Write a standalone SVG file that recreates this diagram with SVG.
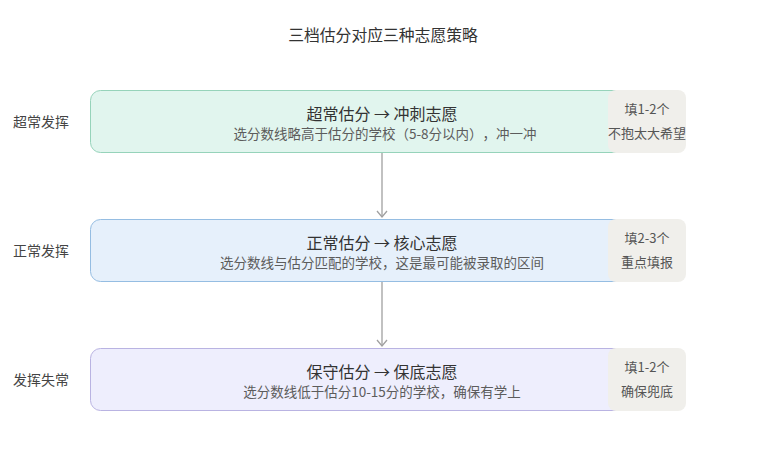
<svg xmlns="http://www.w3.org/2000/svg" width="765" height="450" viewBox="0 0 765 450">
<defs>
<style>
text{font-family:"Noto Sans CJK SC","Liberation Sans",sans-serif;text-spacing-trim:space-all;}
.title{font-size:15.8px;fill:#333;text-anchor:middle;}
.side{font-size:14px;fill:#444;}
.h{font-size:16px;fill:#333;text-anchor:middle;}
.sub{font-size:13.5px;fill:#5c5c5c;text-anchor:middle;}
.tag{fill:#f0efeb;}
.tt{font-size:13px;fill:#555;text-anchor:middle;}
.conn{stroke:#a0a0a0;stroke-width:1.3;fill:none;}
</style>
<marker id="arr" markerWidth="12" markerHeight="14" refX="7" refY="6" orient="auto" markerUnits="userSpaceOnUse">
<path d="M1,1 L7,6 L1,11" fill="none" stroke="#a0a0a0" stroke-width="1.3"/>
</marker>
</defs>
<rect width="765" height="450" fill="#fff"/>
<text class="title" x="383" y="41">三档估分对应三种志愿策略</text>

<g id="label1"><text class="side" x="13" y="127">超常发挥</text></g>
<g id="label2"><text class="side" x="13" y="256">正常发挥</text></g>
<g id="label3"><text class="side" x="13" y="385">发挥失常</text></g>

<g id="connectors">
<line class="conn" x1="382" y1="153" x2="382" y2="217" marker-end="url(#arr)"/>
<line class="conn" x1="382" y1="282" x2="382" y2="346" marker-end="url(#arr)"/>
</g>

<g id="node1">
<rect x="90.5" y="90.5" width="577" height="62" rx="10" fill="#e1f5ee" stroke="#96d3ba"/>
<text class="h" x="382" y="120">超常估分 → 冲刺志愿</text>
<text class="sub" x="385" y="139">选分数线略高于估分的学校（5-8分以内），冲一冲</text>
<rect class="tag" x="608" y="90" width="78" height="63" rx="8"/>
<text class="tt" x="647" y="114">填1-2个</text>
<text class="tt" x="647" y="138">不抱太大希望</text>
</g>

<g id="node2">
<rect x="90.5" y="219.5" width="577" height="62" rx="10" fill="#e6f0fb" stroke="#95bde2"/>
<text class="h" x="382" y="249">正常估分 → 核心志愿</text>
<text class="sub" x="382" y="268">选分数线与估分匹配的学校，这是最可能被录取的区间</text>
<rect class="tag" x="608" y="219" width="78" height="63" rx="8"/>
<text class="tt" x="647" y="243">填2-3个</text>
<text class="tt" x="647" y="267">重点填报</text>
</g>

<g id="node3">
<rect x="90.5" y="348.5" width="577" height="62" rx="10" fill="#eeeefd" stroke="#b9b3e2"/>
<text class="h" x="382" y="378">保守估分 → 保底志愿</text>
<text class="sub" x="382" y="397">选分数线低于估分10-15分的学校，确保有学上</text>
<rect class="tag" x="608" y="348" width="78" height="63" rx="8"/>
<text class="tt" x="647" y="372">填1-2个</text>
<text class="tt" x="647" y="396">确保兜底</text>
</g>
</svg>
